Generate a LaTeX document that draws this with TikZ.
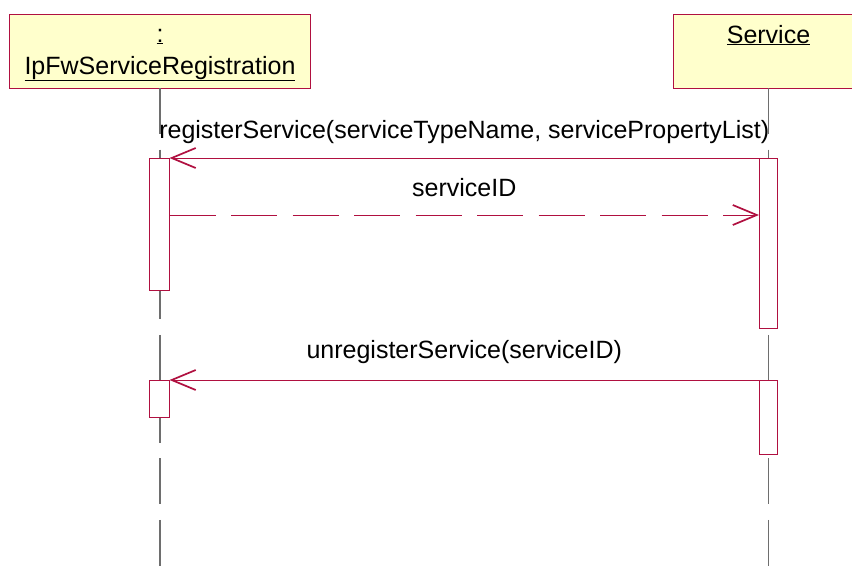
\documentclass[tikz,border=0pt]{standalone}
\usepackage{fontspec}
\setmainfont{Liberation Sans}
\usetikzlibrary{arrows.meta}
\definecolor{umlred}{RGB}{176,16,64}
\definecolor{umlyellow}{RGB}{255,255,204}
\definecolor{lifegray}{RGB}{110,110,110}
\begin{document}
\begin{tikzpicture}[x=1pt,y=-1pt,
  header/.style={draw=umlred,fill=umlyellow,line width=1pt,inner sep=0pt,outer sep=0pt,minimum height=74pt},
  objname/.style={font=\fontsize{25}{30}\selectfont,inner sep=0pt,anchor=base},
  activ/.style={draw=umlred,fill=white,line width=1pt,inner sep=0pt,outer sep=0pt,anchor=north},
  lifeline/.style={draw=lifegray,line width=1.4pt,dash pattern=on 46pt off 15.7pt},
  msg/.style={draw=umlred,line width=1pt,-{Straight Barb[length=24pt,width=20pt,line width=1.7pt]}},
  reply/.style={msg,dash pattern=on 46pt off 15.5pt},
  msglabel/.style={font=\fontsize{25}{30}\selectfont,inner sep=0pt,anchor=base}]
  \useasboundingbox (0,0) rectangle (852,576);
  \clip (0,0) rectangle (852,576);
  % objects
  \node[header,minimum width=301pt] (reg) at (160,51) {};
  \node[header,minimum width=190pt] (srv) at (768.5,51) {};
  \node[objname] (regcolon) at (160,42) {\underline{:}};
  \node[objname] (regname) at (160,74) {\underline{IpFwServiceRegistration}};
  \node[objname] (srvname) at (768.5,43) {\underline{Service}};
  % lifelines
  \coordinate (regend) at (160,566);
  \coordinate (srvend) at (768.5,566);
  \draw[lifeline] (reg.south) -- (regend);
  \draw[lifeline] (srv.south) -- (srvend);
  % activations
  \node[activ,minimum width=20pt,minimum height=132pt] (regact1) at (159.5,158) {};
  \node[activ,minimum width=18pt,minimum height=170pt] (srvact1) at (768,158) {};
  \node[activ,minimum width=20pt,minimum height=37pt] (regact2) at (159.5,380) {};
  \node[activ,minimum width=18pt,minimum height=74pt] (srvact2) at (768,380) {};
  % messages
  \coordinate (idrow) at (0,215);
  \draw[msg] (srvact1.north west) -- node[msglabel,yshift=20pt] (regmsg)
    {registerService(serviceTypeName, servicePropertyList)} (regact1.north east);
  \draw[reply] (regact1.east |- idrow) -- node[msglabel,yshift=19pt] (idmsg)
    {serviceID} (srvact1.west |- idrow);
  \draw[msg] (srvact2.north west) -- node[msglabel,yshift=22pt] (unregmsg)
    {unregisterService(serviceID)} (regact2.north east);
\end{tikzpicture}
\end{document}
